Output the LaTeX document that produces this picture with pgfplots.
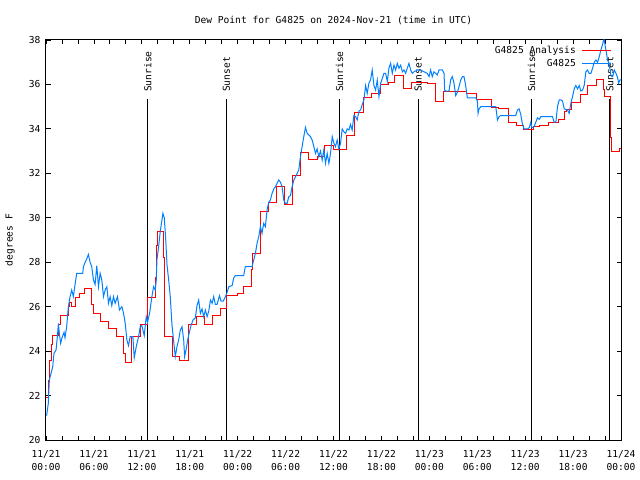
\documentclass[border=0pt]{standalone}
\usepackage{pgfplots}
\pgfplotsset{compat=1.18}
\usepackage{fontspec}
\setmainfont{DejaVu Sans Mono}
\definecolor{gblue}{RGB}{0,128,255}
\newcommand{\gfont}{\fontsize{9.6bp}{12.5bp}\selectfont}
\begin{document}
\begin{tikzpicture}
\useasboundingbox (-46bp,-40bp) rectangle (594bp,440bp);
\begin{axis}[
  at={(0,0)}, anchor=south west,
  scale only axis, width=575bp, height=400bp,
  xmin=0, xmax=72, ymin=20, ymax=38,
  xtick={0,6,...,72},
  minor xtick={2,4,8,10,14,16,20,22,26,28,32,34,38,40,44,46,50,52,56,58,62,64,68,70},
  xticklabels={{11/21\\00:00},{11/21\\06:00},{11/21\\12:00},{11/21\\18:00},{11/22\\00:00},{11/22\\06:00},{11/22\\12:00},{11/22\\18:00},{11/23\\00:00},{11/23\\06:00},{11/23\\12:00},{11/23\\18:00},{11/24\\00:00}},
  xticklabel style={align=center, font=\gfont, yshift=-7bp},
  ytick={20,22,...,38},
  yticklabel style={font=\gfont, xshift=-2bp},
  /pgf/number format/assume math mode=true,
  ylabel={degrees F},
  ylabel style={font=\gfont, at={(axis description cs:-0.0626,0.5)}, anchor=center},
  title={Dew Point for G4825 on 2024-Nov-21 (time in UTC)},
  every axis title/.style={font=\gfont, at={(axis description cs:0.5,1.05)}, anchor=center},
  tick align=inside,
  major tick length=4.5bp, minor tick length=4.5bp,
  every tick/.style={black, line width=0.8bp},
  axis line style={line width=1bp},
  legend plot pos=right,
  legend cell align=right,
  legend image code/.code={\path (0bp,0bp); \draw[#1] (4bp,0bp) -- (33bp,0bp);},
  legend style={draw=none, fill=none, at={(1,1)}, anchor=north east, xshift=-8bp, yshift=-3bp,
    font=\gfont, row sep=0bp, inner sep=1bp},
]
% sunrise / sunset lines
\addplot[black, line width=1bp, forget plot] coordinates {(12.75,20) (12.75,35.35)};
\addplot[black, line width=1bp, forget plot] coordinates {(22.6,20) (22.6,35.35)};
\addplot[black, line width=1bp, forget plot] coordinates {(36.77,20) (36.77,35.35)};
\addplot[black, line width=1bp, forget plot] coordinates {(46.6,20) (46.6,35.35)};
\addplot[black, line width=1bp, forget plot] coordinates {(60.8,20) (60.8,35.35)};
\addplot[black, line width=1bp, forget plot] coordinates {(70.62,20) (70.62,35.35)};
\node[rotate=90, anchor=west, inner sep=0pt, font=\gfont] at (axis cs:12.75,35.66) {Sunrise};
\node[rotate=90, anchor=west, inner sep=0pt, font=\gfont] at (axis cs:22.6,35.66) {Sunset};
\node[rotate=90, anchor=west, inner sep=0pt, font=\gfont] at (axis cs:36.77,35.66) {Sunrise};
\node[rotate=90, anchor=west, inner sep=0pt, font=\gfont] at (axis cs:46.6,35.66) {Sunset};
\node[rotate=90, anchor=west, inner sep=0pt, font=\gfont] at (axis cs:60.8,35.66) {Sunrise};
\node[rotate=90, anchor=west, inner sep=0pt, font=\gfont] at (axis cs:70.62,35.66) {Sunset};
% analysis (red, step)
\addplot[red, line width=1bp, const plot] coordinates {
(0,21.9) (0.3,22.7) (0.5,23.6) (0.7,24.3) (0.85,24.7) (1.6,25.2) (1.85,25.6) (2.8,26.0) (2.9,26.2) (3.2,26.0)
(3.75,26.4) (4.2,26.6) (4.8,26.8) (5.7,26.1) (5.9,25.7) (6.8,25.35) (7.8,25.0) (8.8,24.65) (9.7,23.9) (9.9,23.5)
(10.7,24.65) (11.8,25.2) (12.7,26.4) (13.7,27.3) (13.8,28.75) (13.9,29.4) (14.7,28.2) (14.85,24.65) (15.9,23.75) (16.7,23.6)
(17.8,25.2) (18.8,25.55) (19.8,25.2) (20.8,25.6) (21.8,25.9) (22.6,26.48) (23.92,26.6) (24.67,26.9) (25.72,27.65) (25.89,28.4)
(26.85,30.3) (27.89,30.7) (28.85,31.4) (29.9,30.6) (30.82,31.9) (31.86,32.95) (32.91,32.6) (33.95,32.75) (34.92,33.27) (35.96,33.08)
(37.63,33.7) (38.68,34.75) (39.72,35.4) (40.73,35.6) (41.9,36.0) (42.86,36.1) (43.7,36.4) (44.74,35.8) (45.74,36.1) (47.75,36.05)
(48.79,35.25) (49.75,35.7) (52.68,35.6) (53.93,35.3) (55.81,34.97) (56.61,34.9) (57.86,34.3) (58.95,34.13) (59.79,33.98) (61.0,34.1)
(61.75,34.13) (62.92,34.3) (64.18,34.4) (64.89,34.8) (65.22,34.85) (65.85,35.2) (66.89,35.55) (67.81,35.95) (68.98,36.23) (69.82,35.75)
(69.99,35.45) (70.66,34.85) (70.74,33.6) (70.86,33.0) (71.87,33.1) (72,33.1)
};
\addlegendentry{G4825 Analysis}
% observations (blue)
\addplot[gblue, line width=1bp] coordinates {
(0.08,21.1) (0.29,21.65) (0.42,22.7) (0.63,23.0) (0.84,23.3) (1.0,23.9) (1.26,24.05) (1.42,24.65) (1.55,25.25) (1.67,24.8)
(1.84,24.35) (2.0,24.6) (2.26,24.85) (2.38,24.6) (2.59,25.1) (2.8,26.0) (3.01,26.45) (3.22,26.75) (3.43,26.45) (3.64,27.0)
(3.85,27.5) (4.6,27.5) (4.69,27.8) (4.9,28.0) (5.1,28.15) (5.31,28.35) (5.52,28.0) (5.73,27.8) (5.94,27.2) (6.15,27.0)
(6.36,27.85) (6.57,26.9) (6.78,27.5) (6.99,27.2) (7.2,26.45) (7.41,26.75) (7.62,26.9) (7.82,26.15) (8.03,26.45) (8.24,26.05)
(8.45,26.45) (8.66,26.15) (8.95,26.45) (9.2,25.85) (9.5,26.0) (9.71,25.7) (9.92,25.25) (10.13,24.5) (10.33,24.25) (10.54,24.65)
(10.88,24.65) (11.05,23.7) (11.3,24.2) (11.59,24.65) (11.8,25.1) (12.0,25.15) (12.3,24.7) (12.55,25.55) (12.72,25.3) (12.97,25.7)
(13.26,26.45) (13.47,26.9) (13.68,26.75) (13.81,27.2) (13.89,28.1) (14.1,28.7) (14.31,29.4) (14.52,29.9) (14.64,30.2) (14.81,30.0)
(14.98,29.1) (15.15,27.9) (15.36,27.2) (15.56,26.45) (15.77,25.2) (15.98,24.45) (16.19,23.75) (16.4,24.2) (16.61,24.5) (16.82,24.95)
(17.03,25.1) (17.24,24.5) (17.36,23.75) (17.53,24.05) (17.74,24.5) (17.95,24.85) (18.16,25.15) (18.41,25.4) (18.7,25.5) (18.91,26.05)
(19.12,26.3) (19.33,25.7) (19.54,25.9) (19.75,25.55) (19.96,25.85) (20.17,25.55) (20.38,25.8) (20.59,26.3) (20.8,26.15) (21.0,26.45)
(21.21,26.1) (21.42,26.1) (21.72,26.5) (21.92,26.25) (22.18,26.25) (22.47,26.45) (22.68,26.65) (22.89,26.9) (23.31,26.95) (23.51,27.3)
(23.72,27.4) (24.75,27.4) (24.96,27.8) (25.8,27.8) (26.01,28.1) (26.22,28.4) (26.43,28.85) (26.64,29.15) (26.85,29.6) (27.05,29.3)
(27.26,29.75) (27.47,29.6) (27.68,30.35) (27.89,30.7) (28.1,30.8) (28.31,31.1) (28.52,31.3) (28.73,31.4) (28.94,31.55) (29.15,31.7)
(29.36,31.6) (29.56,31.4) (29.77,30.8) (29.98,30.65) (30.19,30.65) (30.4,30.95) (30.61,31.0) (30.82,31.4) (31.03,31.7) (31.24,31.85)
(31.45,32.0) (31.65,32.15) (31.86,32.75) (32.07,33.2) (32.28,33.65) (32.49,34.07) (32.7,33.8) (32.91,33.73) (33.12,33.65) (33.33,33.5)
(33.54,33.2) (33.75,32.9) (33.95,33.1) (34.16,32.75) (34.37,33.0) (34.58,32.6) (34.79,33.05) (35.0,32.45) (35.21,32.9) (35.42,32.45)
(35.63,32.9) (35.84,33.65) (36.05,33.35) (36.25,33.2) (36.46,33.5) (36.67,33.1) (36.88,33.35) (37.09,34.0) (37.3,33.87) (37.51,33.8)
(37.72,34.0) (37.93,33.95) (38.13,34.2) (38.34,33.95) (38.55,34.6) (38.76,34.55) (38.97,34.4) (39.18,34.8) (39.39,34.85) (39.6,35.1)
(39.81,35.3) (40.02,35.95) (40.22,35.6) (40.43,36.05) (40.64,36.2) (40.85,36.65) (41.06,35.95) (41.27,35.75) (41.48,36.2) (41.69,35.45)
(41.9,36.05) (42.11,36.27) (42.32,36.5) (42.53,36.5) (42.74,36.13) (42.94,36.73) (43.15,36.95) (43.36,36.5) (43.57,36.87) (43.78,36.65)
(43.99,36.95) (44.2,36.73) (44.41,36.87) (44.62,36.57) (44.82,36.65) (45.03,36.5) (45.24,36.73) (45.45,36.95) (45.66,36.65) (45.87,36.5)
(46.08,36.57) (46.5,36.65) (46.91,36.65) (47.33,36.57) (47.75,36.5) (47.96,36.35) (48.16,36.65) (48.37,36.35) (48.58,36.57) (49.0,36.43)
(49.21,36.65) (49.63,36.65) (49.84,36.5) (49.92,35.75) (50.05,35.7) (50.46,35.7) (50.67,36.2) (50.88,36.35) (51.09,36.05) (51.3,35.5)
(51.51,35.65) (51.72,35.9) (51.93,36.2) (52.14,36.35) (52.34,36.35) (52.55,35.95) (52.76,35.4) (53.81,35.4) (54.02,35.25) (54.1,34.7)
(54.23,34.9) (54.44,35.0) (56.32,35.0) (56.53,34.4) (56.73,34.55) (56.94,34.6) (58.82,34.6) (59.03,34.85) (59.24,34.9) (59.45,34.65)
(59.66,34.2) (59.87,34.0) (60.29,34.0) (60.5,34.05) (60.71,34.3) (60.83,34.05) (61.12,34.1) (61.33,34.3) (61.54,34.5) (61.75,34.43)
(61.96,34.55) (63.42,34.55) (63.63,34.3) (63.84,34.3) (64.05,35.0) (64.26,35.3) (64.47,35.3) (64.68,35.25) (64.89,34.9) (65.3,34.85)
(65.51,34.7) (65.72,35.15) (65.93,35.45) (66.14,35.8) (66.35,35.95) (66.56,35.8) (66.77,35.95) (66.98,35.7) (67.19,35.75) (67.39,35.95)
(67.6,36.57) (67.81,36.65) (68.02,36.5) (68.23,36.5) (68.44,36.73) (68.65,37.0) (68.86,37.1) (69.07,37.0) (69.28,37.25) (69.48,37.55)
(69.69,37.8) (69.82,38.0) (69.9,38.0) (70.11,37.55) (70.32,37.1) (70.53,36.9) (70.74,36.4) (70.95,36.35) (71.16,36.65) (71.37,36.5)
(71.58,36.3) (71.7,36.05) (71.87,36.2) (72.0,36.2)
};
\addlegendentry{G4825}
\end{axis}
\end{tikzpicture}
\end{document}
